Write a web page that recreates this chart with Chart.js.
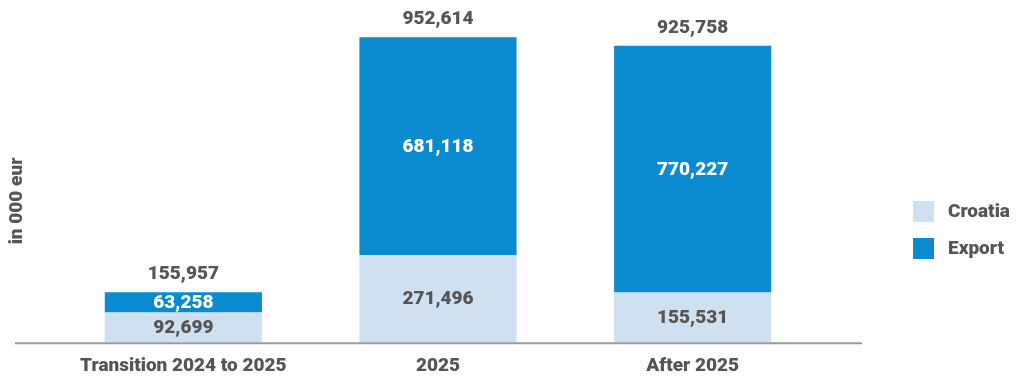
<!DOCTYPE html>
<html>
<head>
<meta charset="utf-8">
<script src="https://cdn.jsdelivr.net/npm/chart.js@4.4.1/dist/chart.umd.min.js"></script>
<style>
  html, body { margin: 0; padding: 0; background: #fff; overflow: hidden; }
  #wrap { width: 1019px; height: 391px; position: relative; }
</style>
</head>
<body>
<div id="wrap"><canvas id="chart"></canvas></div>
<script>
// --- datos ---
const categories = ['Transition 2024 to 2025', '2025', 'After 2025'];
const croatia = [92699, 271496, 155531];
const exportVals = [63258, 681118, 770227];
const totals = [155957, 952614, 925758];

const CROATIA_COLOR = '#cfe0f1';
const EXPORT_COLOR = '#0a8bcf';
const TEXT_COLOR = '#555555';
const FONT = 'Roboto, "DejaVu Sans", sans-serif';
const LABEL_FONT = '900 19px ' + FONT;

const fmt = v => v.toLocaleString('en-US');

// etiquetas dentro de las barras, totales, eje y leyenda
const extrasPlugin = {
  id: 'extras',
  afterDatasetsDraw(chart) {
    const ctx = chart.ctx;
    const area = chart.chartArea;
    ctx.save();
    ctx.font = LABEL_FONT;
    ctx.textAlign = 'center';
    ctx.textBaseline = 'middle';

    chart.data.datasets.forEach((ds, di) => {
      const meta = chart.getDatasetMeta(di);
      meta.data.forEach((bar, i) => {
        const y = (bar.y + bar.base) / 2;
        ctx.fillStyle = di === 1 ? '#ffffff' : TEXT_COLOR;
        ctx.fillText(fmt(ds.data[i]), bar.x, y + 1);
      });
    });

    const top = chart.getDatasetMeta(1);
    top.data.forEach((bar, i) => {
      ctx.fillStyle = TEXT_COLOR;
      ctx.fillText(fmt(totals[i]), bar.x, bar.y - 18);
    });

    // línea base
    ctx.strokeStyle = '#9a9a9a';
    ctx.lineWidth = 2;
    ctx.beginPath();
    ctx.moveTo(15, area.bottom + 1);
    ctx.lineTo(862, area.bottom + 1);
    ctx.stroke();

    // título eje Y
    ctx.save();
    ctx.translate(17, 201);
    ctx.rotate(-Math.PI / 2);
    ctx.font = '900 19px ' + FONT;
    ctx.fillStyle = TEXT_COLOR;
    ctx.fillText('in 000 eur', 0, 0);
    ctx.restore();

    // leyenda
    const items = [
      { label: 'Croatia', color: CROATIA_COLOR, y: 201 },
      { label: 'Export', color: EXPORT_COLOR, y: 238 }
    ];
    ctx.textAlign = 'left';
    ctx.font = LABEL_FONT;
    items.forEach(it => {
      ctx.fillStyle = it.color;
      ctx.fillRect(913, it.y, 21, 21);
      ctx.fillStyle = TEXT_COLOR;
      ctx.fillText(it.label, 948, it.y + 11);
    });
    ctx.restore();
  }
};

new Chart(document.getElementById('chart'), {
  type: 'bar',
  data: {
    labels: categories,
    datasets: [
      { label: 'Croatia', data: croatia, backgroundColor: CROATIA_COLOR },
      { label: 'Export', data: exportVals, backgroundColor: EXPORT_COLOR }
    ]
  },
  options: {
    responsive: true,
    maintainAspectRatio: false,
    animation: false,
    layout: { padding: { left: 56, right: 199, top: 22, bottom: 0 } },
    datasets: { bar: { categoryPercentage: 1, barPercentage: 0.617 } },
    scales: {
      x: {
        stacked: true,
        grid: { display: false, drawTicks: false },
        border: { display: false },
        ticks: { color: TEXT_COLOR, font: { family: FONT, size: 19, weight: '900' }, padding: 13, maxRotation: 0 }
      },
      y: {
        stacked: true,
        display: false,
        min: 0,
        max: 1000000
      }
    },
    plugins: {
      legend: { display: false },
      tooltip: { enabled: false }
    }
  },
  plugins: [extrasPlugin]
});
</script>
</body>
</html>
